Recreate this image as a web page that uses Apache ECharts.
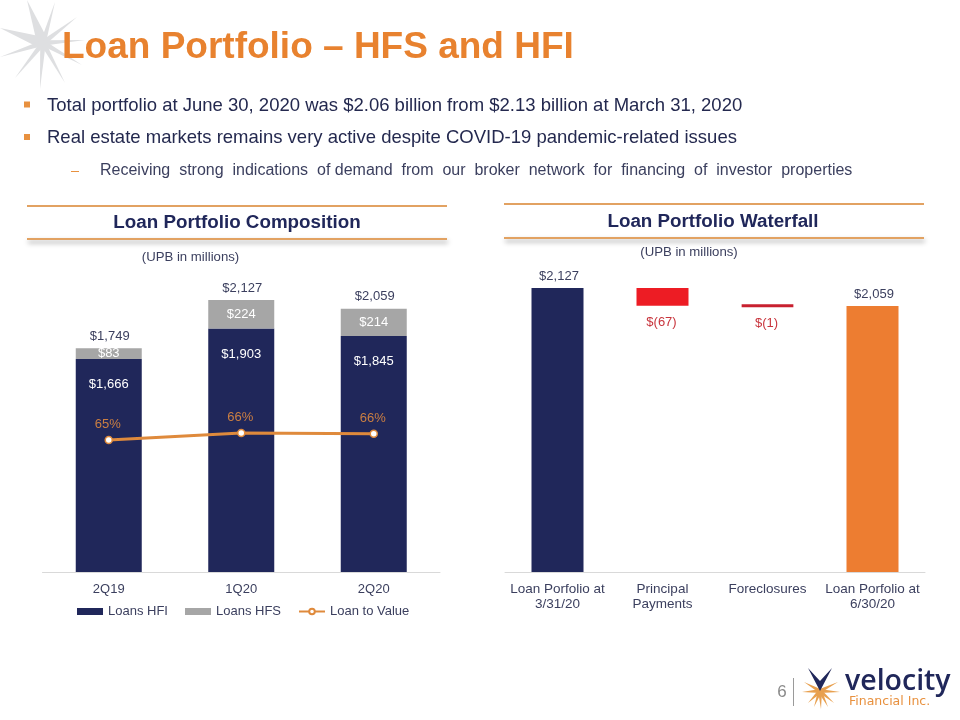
<!DOCTYPE html>
<html>
<head>
<meta charset="utf-8">
<title>Loan Portfolio</title>
<script src="https://cdn.jsdelivr.net/npm/echarts@6/dist/echarts.min.js"></script>
<style>
html, body { margin: 0; padding: 0; background: #fff; }
#main { width: 960px; height: 720px; }
</style>
</head>
<body>
<div id="main"></div>
<script>
// composition chart
var quarters = ['2Q19', '1Q20', '2Q20'];
var loansHfi = [1666, 1903, 1845];
var loansHfs = [83, 224, 214];
var portfolioTotal = [1749, 2127, 2059];
var loanToValue = [65, 66, 65.9];

// waterfall chart
var waterCategories = ['Loan Porfolio at\n3/31/20', 'Principal\nPayments', 'Foreclosures', 'Loan Porfolio at\n6/30/20'];
var waterBase = [0, 2060, 2059, 0];
var waterValues = [2127, 67, 1, 2059];
var waterLabels = ['$2,127', '$(67)', '$(1)', '$2,059'];

var NAVY = '#20275A';
var GREY = '#A6A6A6';
var ORANGE = '#ED7D31';
var LINE_ORANGE = '#DF8A3C';
var RED = '#ED1C24';
var TEXT = '#3B3F5E';
var FONT = '"Liberation Sans", Arial, sans-serif';

function money(v) {
    return '$' + String(v).replace(/\B(?=(\d{3})+$)/g, ',');
}

// spiky star used for the corner decoration and the logo
function star(cx, cy, tips, inner, fill, z) {
    return tips.map(function (t) {
        var a = Math.atan2(t[1] - cy, t[0] - cx) + Math.PI / 2;
        var w = t[2] || inner;
        var dx = Math.cos(a) * w, dy = Math.sin(a) * w;
        return {
            type: 'polygon',
            silent: true,
            z: z,
            shape: { points: [[cx + dx, cy + dy], [t[0], t[1]], [cx - dx, cy - dy]] },
            style: { fill: fill }
        };
    });
}

function text(x, y, str, size, color, extra) {
    var st = { x: x, y: y, text: str, fill: color, textVerticalAlign: 'middle', verticalAlign: 'middle',
        font: (extra && extra.weight ? extra.weight + ' ' : '') + size + 'px ' + (extra && extra.family || FONT),
        textAlign: extra && extra.align || 'left', align: extra && extra.align || 'left' };
    return { type: 'text', silent: true, z: 10, style: st };
}

function rule(x, y, w, shadow) {
    var st = { fill: '#E2A262' };
    if (shadow) {
        st.shadowBlur = 5;
        st.shadowColor = 'rgba(0,0,0,0.4)';
        st.shadowOffsetY = 3;
        st.shadowOffsetX = 1;
    }
    return { type: 'rect', silent: true, z: 5, shape: { x: x, y: y, width: w, height: 2 }, style: st };
}

function bullet(x, y) {
    return { type: 'rect', silent: true, z: 5, shape: { x: x, y: y, width: 6, height: 6 }, style: { fill: '#E8913F' } };
}

var cornerTips = [[27, 0, 6], [0, 28, 6], [55, 2], [77, 17], [85, 40], [82, 65], [65, 83], [40, 89], [15, 78], [0, 57]];
var logoTips = [[802, 692], [840, 692], [821, 709], [808, 703], [834, 703], [804, 682], [838, 682], [814, 707], [828, 707]];

var decorations = []
    .concat(star(43, 43, cornerTips, 2.8, '#DEDFE1', 0))
    .concat(star(820, 691, logoTips, 2, '#E8A04F', 5))
    .concat([
        { type: 'polygon', silent: true, z: 6, shape: { points: [[808, 668], [820, 681], [832, 668], [820, 691]] }, style: { fill: NAVY } },
        text(62, 48, 'Loan Portfolio \u2013 HFS and HFI', 37, '#E8822F', { weight: 'bold' }),
        bullet(24, 101.5),
        bullet(24, 134),
        text(47, 106, 'Total portfolio at June 30, 2020 was $2.06 billion from $2.13 billion at March 31, 2020', 18.5, '#24294F'),
        text(47, 138, 'Real estate markets remains very active despite COVID-19 pandemic-related issues', 18.5, '#24294F'),
        { type: 'rect', silent: true, shape: { x: 71, y: 171, width: 8, height: 1 }, style: { fill: '#E8913F' } },
        text(100, 171, 'Receiving  strong  indications  of demand  from  our  broker  network  for  financing  of  investor  properties', 16, '#3B3F5E'),
        rule(27, 205, 420),
        rule(27, 238, 420, true),
        rule(504, 203, 420),
        rule(504, 237, 420, true),
        text(237, 223, 'Loan Portfolio Composition', 18.8, NAVY, { weight: 'bold', align: 'center' }),
        text(713, 222, 'Loan Portfolio Waterfall', 18.8, NAVY, { weight: 'bold', align: 'center' }),
        text(190.5, 257.5, '(UPB in millions)', 13.2, TEXT, { align: 'center' }),
        text(689, 252.5, '(UPB in millions)', 13.2, TEXT, { align: 'center' }),
        text(782, 692, '6', 17, '#8A8A8A', { align: 'center' }),
        { type: 'rect', silent: true, shape: { x: 793, y: 678, width: 1, height: 28 }, style: { fill: '#9A9A9A' } },
        text(845, 682, 'velocity', 28.5, NAVY, { family: '"Open Sans", sans-serif', weight: 600 }),
        text(849, 702, 'Financial Inc.', 12.5, '#E8913F', { family: '"DejaVu Sans", sans-serif' })
    ]);

var chart = echarts.init(document.getElementById('main'));

var option = {
    animation: false,
    backgroundColor: '#fff',
    textStyle: { fontFamily: FONT },
    graphic: { elements: decorations },
    legend: {
        left: 77,
        top: 605,
        padding: 0,
        itemGap: 17,
        itemWidth: 26,
        itemHeight: 7,
        data: [
            { name: 'Loans HFI', icon: 'rect' },
            { name: 'Loans HFS', icon: 'rect' },
            { name: 'Loan to Value' }
        ],
        textStyle: { color: TEXT, fontSize: 13, fontFamily: FONT }
    },
    grid: [
        { left: 42.5, width: 397.5, top: 290.6, height: 281.4 },
        { left: 505, width: 420, top: 282, height: 290 }
    ],
    xAxis: [
        {
            type: 'category', gridIndex: 0, data: quarters,
            axisTick: { show: false },
            axisLine: { lineStyle: { color: '#D9D9D9' } },
            axisLabel: { color: TEXT, fontSize: 13, margin: 11 }
        },
        {
            type: 'category', gridIndex: 1, data: waterCategories,
            axisTick: { show: false },
            axisLine: { lineStyle: { color: '#D9D9D9' } },
            axisLabel: { color: TEXT, fontSize: 13.5, lineHeight: 15, margin: 10, interval: 0, verticalAlign: 'top' }
        }
    ],
    yAxis: [
        { type: 'value', gridIndex: 0, min: 0, max: 2200, show: false },
        { type: 'value', gridIndex: 0, min: 46, max: 86.5, show: false },
        { type: 'value', gridIndex: 1, min: 1050, max: 2150, show: false }
    ],
    series: [
        {
            name: 'Loans HFI', type: 'bar', stack: 'loans', barWidth: 66, data: loansHfi,
            itemStyle: { color: NAVY },
            label: {
                show: true, position: 'insideTop', distance: 19, color: '#fff', fontSize: 13,
                formatter: function (p) { return money(p.value); }
            }
        },
        {
            name: 'Loans HFS', type: 'bar', stack: 'loans', barWidth: 66, data: loansHfs,
            itemStyle: { color: GREY },
            label: {
                show: true, position: 'inside', color: '#fff', fontSize: 13,
                formatter: function (p) { return money(p.value); }
            }
        },
        {
            name: 'Total', type: 'line', data: portfolioTotal,
            symbol: 'circle', symbolSize: 1,
            itemStyle: { color: 'transparent' },
            lineStyle: { opacity: 0 },
            silent: true,
            label: {
                show: true, position: 'top', distance: 5, color: TEXT, fontSize: 13, offset: [1, 0],
                formatter: function (p) { return money(p.value); }
            }
        },
        {
            name: 'Loan to Value', type: 'line', yAxisIndex: 1, data: loanToValue,
            symbol: 'circle', symbolSize: 7, showSymbol: true,
            itemStyle: { color: '#fff', borderColor: LINE_ORANGE, borderWidth: 1.5 },
            lineStyle: { color: LINE_ORANGE, width: 3 },
            label: {
                show: true, position: 'top', distance: 5, color: '#CB7F42', fontSize: 13, offset: [-1, 0],
                formatter: function (p) { return Math.round(p.value) + '%'; }
            }
        },
        {
            name: 'base', type: 'bar', stack: 'water', xAxisIndex: 1, yAxisIndex: 2, barWidth: 52,
            data: waterBase, silent: true,
            itemStyle: { color: 'transparent' }
        },
        {
            name: 'Waterfall', type: 'bar', stack: 'water', xAxisIndex: 1, yAxisIndex: 2, barWidth: 52,
            data: waterValues.map(function (v, i) {
                var isTotal = waterBase[i] === 0;
                var colors = [NAVY, RED, '#C8202F', ORANGE];
                return {
                    value: v,
                    itemStyle: i === 2 ? { color: colors[i], borderColor: colors[i], borderWidth: 3 } : { color: colors[i] },
                    label: {
                        show: true,
                        formatter: waterLabels[i],
                        position: isTotal ? 'top' : 'bottom',
                        distance: isTotal ? 5.5 : (i === 1 ? 10.5 : 9.5),
                        color: isTotal ? TEXT : '#C8343C',
                        fontSize: 13,
                        offset: isTotal ? [1.5, 0] : [-1, 0]
                    }
                };
            })
        }
    ]
};
chart.setOption(option);
</script>
</body>
</html>
